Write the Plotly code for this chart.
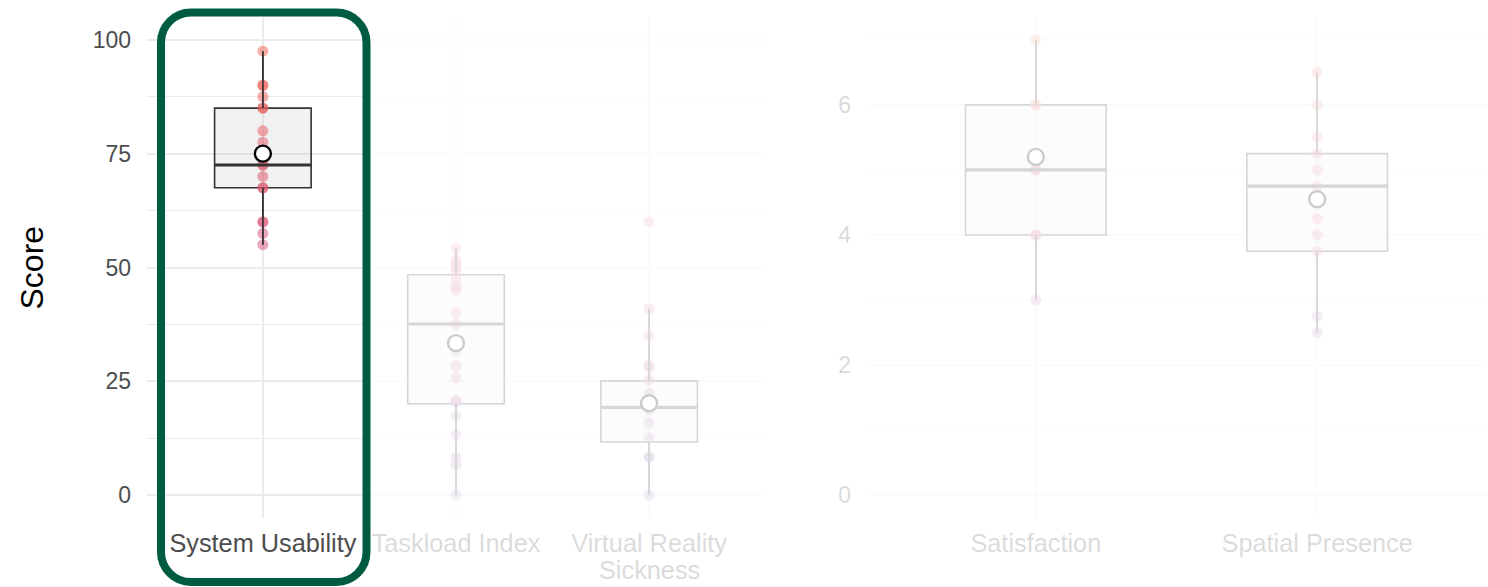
import plotly.graph_objects as go

W, H = 1488, 587

# ---------------- data ----------------
left_categories = ["System Usability", "Taskload Index", "Virtual Reality"]
left_categories_line2 = ["", "", "Sickness"]
right_categories = ["Satisfaction", "Spatial Presence"]

sus_scores = [55, 57.5, 60, 60, 67.5, 67.5, 70, 72.5, 72.5, 77.5, 80, 85, 85, 87.5, 90, 90, 97.5]
tlx_scores = [0, 6.7, 8.3, 13.3, 17.5, 20.5, 20.8, 25.8, 28.3, 31.7, 37.5, 40, 45, 45.8, 47.5,
              49.2, 50, 50.8, 51.7, 54.2]
vrs_scores = [0, 8.4, 8.4, 12.6, 15.9, 18.7, 22.4, 25.3, 28, 28.6, 35, 41, 60]
sat_scores = [3, 4, 4, 5, 5, 5, 6, 6, 7]
spp_scores = [2.5, 2.75, 3.75, 4, 4.25, 4.75, 5, 5.25, 5.5, 6, 6.5]

left_q1 = [67.5, 20.1, 11.7]
left_median = [72.5, 37.6, 19.3]
left_q3 = [85, 48.4, 25.1]
left_lower = [55, 0, 0]
left_upper = [97.5, 54.2, 41]
left_mean = [75, 33.4, 20.2]

right_q1 = [4, 3.75]
right_median = [5, 4.75]
right_q3 = [6, 5.25]
right_lower = [3, 2.5]
right_upper = [7, 6.5]
right_mean = [5.2, 4.55]

left_scale = (0, 100)
right_scale = (1, 7)

# ---------------- styling ----------------
FONT = "Liberation Sans, Arial, Helvetica, sans-serif"
TICK_COLOR = "#4d4d4d"
FADED_TEXT = "#dbdbdb"
GRID = "#ebebeb"
POINT_SCALE = [[0, "#7B4FA8"], [0.5, "#D24C7E"], [1, "#F25C45"]]
BOX_W = 0.5
XFONT = 25.3


def px_x(p):
    return p / W


def px_y(p):
    return 1 - p / H


fig = go.Figure()


def add_panel(xa, ya, score_lists, q1, med, q3, lo, hi, mean, scale):
    n = len(score_lists)
    positions = list(range(1, n + 1))
    # points
    for pos, scores in zip(positions, score_lists):
        norm = [(s - scale[0]) / (scale[1] - scale[0]) for s in scores]
        fig.add_trace(go.Scatter(
            x=[pos] * len(scores), y=scores, mode="markers", xaxis=xa, yaxis=ya,
            marker=dict(size=11, color=norm, colorscale=POINT_SCALE, cmin=0, cmax=1,
                        opacity=0.5, line=dict(width=0)),
            showlegend=False, hoverinfo="skip"))
    # boxes
    fig.add_trace(go.Box(
        x=positions, q1=q1, median=med, q3=q3, lowerfence=lo, upperfence=hi,
        xaxis=xa, yaxis=ya, width=BOX_W, whiskerwidth=0,
        fillcolor="rgba(190,190,190,0.22)", line=dict(color="#333333", width=1.6),
        boxpoints=False, showlegend=False, hoverinfo="skip"))
    # whiskers and medians drawn on top of the points
    for pos, a, b, c, d, m in zip(positions, lo, q1, q3, hi, med):
        fig.add_trace(go.Scatter(x=[pos, pos, None, pos, pos], y=[a, b, None, c, d],
                                 mode="lines", xaxis=xa, yaxis=ya,
                                 line=dict(color="#333333", width=1.6),
                                 showlegend=False, hoverinfo="skip"))
        fig.add_trace(go.Scatter(x=[pos - BOX_W / 2, pos + BOX_W / 2], y=[m, m],
                                 mode="lines", xaxis=xa, yaxis=ya,
                                 line=dict(color="#333333", width=3.2),
                                 showlegend=False, hoverinfo="skip"))
    # means
    fig.add_trace(go.Scatter(
        x=positions, y=mean, mode="markers", xaxis=xa, yaxis=ya,
        marker=dict(size=16, color="white", line=dict(color="black", width=2.4)),
        showlegend=False, hoverinfo="skip"))


add_panel("x", "y", [sus_scores, tlx_scores, vrs_scores],
          left_q1, left_median, left_q3, left_lower, left_upper, left_mean, left_scale)
add_panel("x2", "y2", [sat_scores, spp_scores],
          right_q1, right_median, right_q3, right_lower, right_upper, right_mean, right_scale)

ydom = [px_y(518), px_y(17)]
common_x = dict(showgrid=True, gridcolor=GRID, gridwidth=2, zeroline=False, showline=False,
                ticks="", tickfont=dict(family=FONT, size=XFONT, color=TICK_COLOR),
                ticklabelstandoff=8)
common_y = dict(showgrid=True, gridcolor=GRID, gridwidth=2, zeroline=False, showline=False,
                ticks="", tickfont=dict(family=FONT, size=23, color=TICK_COLOR),
                ticklabelstandoff=15)

fig.update_layout(
    width=W, height=H, margin=dict(l=0, r=0, t=0, b=0),
    plot_bgcolor="white", paper_bgcolor="white",
    font=dict(family=FONT),
    xaxis=dict(domain=[px_x(147), px_x(765)], range=[0.4, 3.6],
               tickvals=[1, 2, 3], ticktext=left_categories, anchor="y", automargin=False,
               **common_x),
    yaxis=dict(domain=ydom, range=[-5, 105], tickvals=[0, 25, 50, 75, 100], anchor="x",
               minor=dict(dtick=12.5, showgrid=True, gridcolor=GRID, gridwidth=1, tick0=0),
               automargin=False, **common_y),
    xaxis2=dict(domain=[px_x(867), px_x(1486)], range=[0.4, 2.6],
                tickvals=[1, 2], ticktext=right_categories, anchor="y2", automargin=False,
                **common_x),
    yaxis2=dict(domain=ydom, range=[-0.35, 7.35], tickvals=[0, 2, 4, 6], anchor="x2",
                minor=dict(dtick=1, showgrid=True, gridcolor=GRID, gridwidth=1, tick0=0),
                automargin=False, **common_y),
)

# second line of the wrapped category label (faded like the rest of its panel)
for pos, txt in enumerate(left_categories_line2, start=1):
    if txt:
        fig.add_annotation(text=txt, xref="x", yref="paper", x=pos, y=px_y(570),
                           showarrow=False, xanchor="center", yanchor="middle",
                           font=dict(family=FONT, size=XFONT, color=FADED_TEXT))

# y-axis title
fig.add_annotation(text="Score", xref="paper", yref="paper", x=px_x(31), y=px_y(267.5),
                   textangle=-90, showarrow=False, xanchor="center", yanchor="middle",
                   font=dict(family=FONT, size=32, color="black"))

# fade everything outside the highlighted column
fig.add_shape(type="rect", xref="paper", yref="paper", x0=px_x(370), x1=1, y0=0, y1=1,
              fillcolor="rgba(255,255,255,0.8)", line=dict(width=0), layer="above")

# rounded highlight frame (centre line of the stroke, in pixels)
L, R, T, B, r = 161, 366.5, 12.5, 582, 30
k = 0.5523 * r
pts = [
    ("M", [(L + r, T)]),
    ("L", [(R - r, T)]),
    ("C", [(R - r + k, T), (R, T + r - k), (R, T + r)]),
    ("L", [(R, B - r)]),
    ("C", [(R, B - r + k), (R - r + k, B), (R - r, B)]),
    ("L", [(L + r, B)]),
    ("C", [(L + r - k, B), (L, B - r + k), (L, B - r)]),
    ("L", [(L, T + r)]),
    ("C", [(L, T + r - k), (L + r - k, T), (L + r, T)]),
]
path = ""
for cmd, cps in pts:
    path += cmd + " " + " ".join(f"{px_x(x):.6f},{px_y(y):.6f}" for x, y in cps) + " "
path += "Z"
fig.add_shape(type="path", path=path, xref="paper", yref="paper",
              line=dict(color="#005C40", width=8), fillcolor="rgba(0,0,0,0)", layer="above")

fig.write_html("out.html")
